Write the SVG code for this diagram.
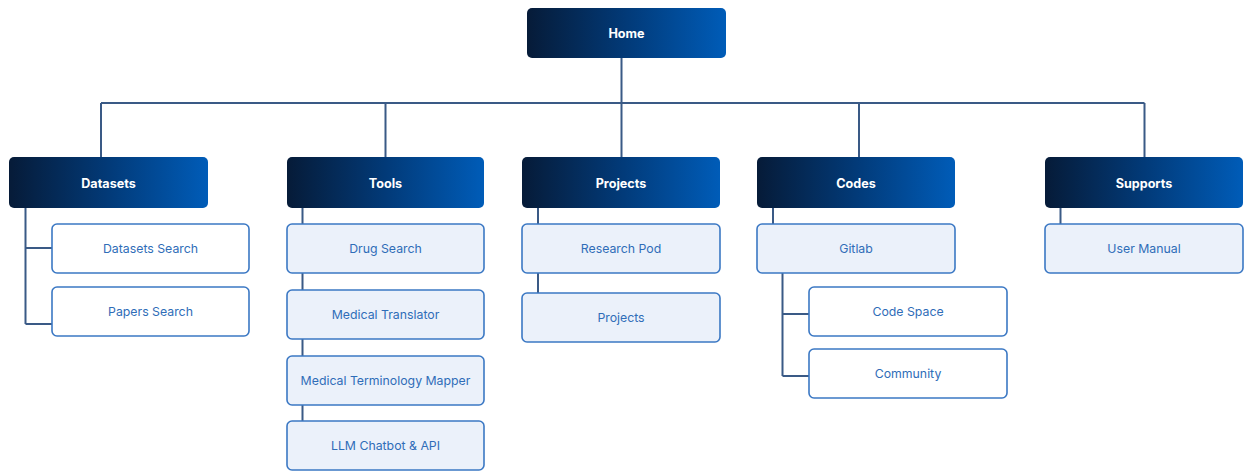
<svg xmlns="http://www.w3.org/2000/svg" width="1245" height="472" viewBox="0 0 1245 472">
<defs>
<linearGradient id="hg" x1="0" y1="0" x2="1" y2="0">
<stop offset="0" stop-color="#061b38"/>
<stop offset="0.5" stop-color="#023a78"/>
<stop offset="1" stop-color="#005cb8"/>
</linearGradient>
<style>
.hdr{fill:url(#hg)}
.ht{fill:#ffffff;font-family:Inter,"Liberation Sans",sans-serif;font-size:12.6px;font-weight:700;text-anchor:middle;dominant-baseline:central}
.lb{fill:#ebf1fa;stroke:#3b78c4;stroke-width:1.6}
.wb{fill:#ffffff;stroke:#3b78c4;stroke-width:1.6}
.ct{fill:#2f6db8;font-family:Inter,"Liberation Sans",sans-serif;font-size:12.3px;text-anchor:middle;dominant-baseline:central}
.ln{fill:none;stroke:#3a5a86;stroke-width:2}
</style>
</defs>
<rect width="1245" height="472" fill="#ffffff"/>
<g id="connectors">
<path class="ln" d="M621.5 58V103M101 103H1144.5M101 103V157M385.5 103V157M621.5 103V157M859 103V157M1144.5 103V157"/>
<path class="ln" d="M25.5 208V324M25.5 248H52M25.5 324H52"/>
<path class="ln" d="M302.5 208V224M302.5 273V290M302.5 339V356M302.5 405V421"/>
<path class="ln" d="M538 208V224M538 273V293"/>
<path class="ln" d="M773 208V224M782.5 273V376M782.5 314H809M782.5 376H809"/>
<path class="ln" d="M1060.5 208V224"/>
</g>
<g id="home"><rect class="hdr" x="527" y="8" width="199" height="50" rx="5"/><text class="ht" x="626.5" y="33">Home</text></g>
<g id="datasets"><rect class="hdr" x="9" y="157" width="199" height="51" rx="5"/><text class="ht" x="108.5" y="183">Datasets</text></g>
<g id="datasets-search"><rect class="wb" x="52" y="224" width="197" height="49" rx="5"/><text class="ct" x="150.5" y="248.5">Datasets Search</text></g>
<g id="papers-search"><rect class="wb" x="52" y="287" width="197" height="49" rx="5"/><text class="ct" x="150.5" y="311.5">Papers Search</text></g>
<g id="tools"><rect class="hdr" x="287" y="157" width="197" height="51" rx="5"/><text class="ht" x="385.5" y="183">Tools</text></g>
<g id="drug-search"><rect class="lb" x="287" y="224" width="197" height="49" rx="5"/><text class="ct" x="385.5" y="248.5">Drug Search</text></g>
<g id="medical-translator"><rect class="lb" x="287" y="290" width="197" height="49" rx="5"/><text class="ct" x="385.5" y="314.5">Medical Translator</text></g>
<g id="terminology-mapper"><rect class="lb" x="287" y="356" width="197" height="49" rx="5"/><text class="ct" x="385.5" y="380.5">Medical Terminology Mapper</text></g>
<g id="llm-chatbot"><rect class="lb" x="287" y="421" width="197" height="49" rx="5"/><text class="ct" x="385.5" y="445.5">LLM Chatbot &amp; API</text></g>
<g id="projects"><rect class="hdr" x="522" y="157" width="198" height="51" rx="5"/><text class="ht" x="621" y="183">Projects</text></g>
<g id="research-pod"><rect class="lb" x="522" y="224" width="198" height="49" rx="5"/><text class="ct" x="621" y="248.5">Research Pod</text></g>
<g id="projects-child"><rect class="lb" x="522" y="293" width="198" height="49" rx="5"/><text class="ct" x="621" y="317.5">Projects</text></g>
<g id="codes"><rect class="hdr" x="757" y="157" width="198" height="51" rx="5"/><text class="ht" x="856" y="183">Codes</text></g>
<g id="gitlab"><rect class="lb" x="757" y="224" width="198" height="49" rx="5"/><text class="ct" x="856" y="248.5">Gitlab</text></g>
<g id="code-space"><rect class="wb" x="809" y="287" width="198" height="49" rx="5"/><text class="ct" x="908" y="311.5">Code Space</text></g>
<g id="community"><rect class="wb" x="809" y="349" width="198" height="49" rx="5"/><text class="ct" x="908" y="373.5">Community</text></g>
<g id="supports"><rect class="hdr" x="1045" y="157" width="198" height="51" rx="5"/><text class="ht" x="1144" y="183">Supports</text></g>
<g id="user-manual"><rect class="lb" x="1045" y="224" width="198" height="49" rx="5"/><text class="ct" x="1144" y="248.5">User Manual</text></g>
</svg>
